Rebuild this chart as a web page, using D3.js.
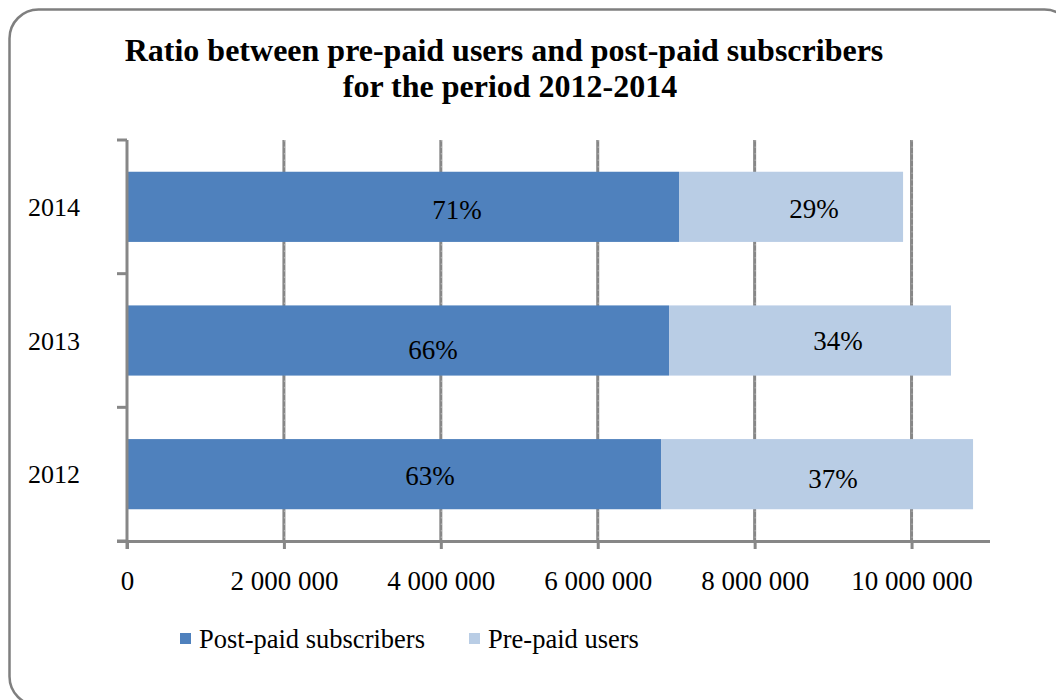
<!DOCTYPE html>
<html>
<head>
<meta charset="utf-8">
<script src="https://cdn.jsdelivr.net/npm/d3@7"></script>
<style>
  html, body { margin: 0; padding: 0; background: #ffffff; }
  svg { display: block; }
  text { font-family: "Liberation Serif", "Times New Roman", serif; fill: #000; }
</style>
</head>
<body>
<svg id="chart" width="1056" height="700"></svg>
<script>
// Subscribers by year (bottom-to-top order on the chart: 2012, 2013, 2014)
const years = ["2012", "2013", "2014"];
const postPaid = [6807000, 6909000, 7036000];
const prePaid = [3977000, 3594000, 2856000];
const seriesNames = ["Post-paid subscribers", "Pre-paid users"];
const xTicks = [0, 2000000, 4000000, 6000000, 8000000, 10000000];

// Small nudges for the percentage labels [dx, dy] per year, per series
const postLabelNudge = [[36, 2], [35, 9], [54, 3]];
const preLabelNudge = [[16, 5], [28, 0], [23, 2]];

const colors = { post: "#4F81BD", pre: "#B9CDE5", grid: "#878787", gridDot: "#b4b4b4", frame: "#7f7f7f" };

const svg = d3.select("#chart");

// Rounded outer frame
svg.append("rect")
  .attr("x", 9.5).attr("y", 9.5)
  .attr("width", 1064).attr("height", 696)
  .attr("rx", 29).attr("ry", 29)
  .attr("fill", "#fff")
  .attr("stroke", colors.frame)
  .attr("stroke-width", 2.5);

// Title
const title = svg.append("text")
  .attr("text-anchor", "middle")
  .attr("font-weight", "bold")
  .attr("font-size", 32);
title.append("tspan").attr("x", 504).attr("y", 61).text("Ratio between pre-paid users and post-paid subscribers");
title.append("tspan").attr("x", 510).attr("y", 97).text("for the period 2012-2014");

// Scales
const plot = { left: 127, right: 990, top: 140, bottom: 541 };
const x = d3.scaleLinear().domain([0, 11000000]).range([plot.left, plot.right]);
const y = d3.scaleBand().domain(years).range([plot.bottom, plot.top])
  .paddingInner(0.475).paddingOuter(0.2375);

const fmt = v => d3.format(",")(v).replace(/,/g, " ");

// Vertical gridlines: solid grey with a faint dotted core
const grid = svg.append("g");
const gridTicks = xTicks.filter(d => d > 0);
grid.selectAll("line.g")
  .data(gridTicks).join("line").attr("class", "g")
  .attr("x1", d => x(d)).attr("x2", d => x(d))
  .attr("y1", plot.top).attr("y2", plot.bottom)
  .attr("stroke", colors.grid)
  .attr("stroke-width", 3);
grid.selectAll("line.d")
  .data(gridTicks).join("line").attr("class", "d")
  .attr("x1", d => x(d) + 0.5).attr("x2", d => x(d) + 0.5)
  .attr("y1", plot.top).attr("y2", plot.bottom)
  .attr("stroke", colors.gridDot)
  .attr("stroke-width", 1)
  .attr("stroke-dasharray", "1.5,5");

// Stacked bars
const rows = years.map((yr, i) => ({ yr, i, post: postPaid[i], pre: prePaid[i], total: postPaid[i] + prePaid[i] }));

const barG = svg.append("g");
barG.selectAll("rect.post")
  .data(rows).join("rect").attr("class", "post")
  .attr("x", x(0))
  .attr("y", d => y(d.yr))
  .attr("width", d => x(d.post) - x(0))
  .attr("height", y.bandwidth())
  .attr("fill", colors.post);

barG.selectAll("rect.pre")
  .data(rows).join("rect").attr("class", "pre")
  .attr("x", d => x(d.post))
  .attr("y", d => y(d.yr))
  .attr("width", d => x(d.total) - x(d.post))
  .attr("height", y.bandwidth())
  .attr("fill", colors.pre);

// Percentage labels
const pct = v => Math.round(v * 100) + "%";
barG.selectAll("text.postLbl")
  .data(rows).join("text").attr("class", "postLbl")
  .attr("x", d => (x(0) + x(d.post)) / 2 + postLabelNudge[d.i][0])
  .attr("y", d => y(d.yr) + y.bandwidth() / 2 + postLabelNudge[d.i][1] + 9)
  .attr("text-anchor", "middle")
  .attr("font-size", 27)
  .text(d => pct(d.post / d.total));

barG.selectAll("text.preLbl")
  .data(rows).join("text").attr("class", "preLbl")
  .attr("x", d => (x(d.post) + x(d.total)) / 2 + preLabelNudge[d.i][0])
  .attr("y", d => y(d.yr) + y.bandwidth() / 2 + preLabelNudge[d.i][1] + 9)
  .attr("text-anchor", "middle")
  .attr("font-size", 27)
  .text(d => pct(d.pre / d.total));

// X axis
const xAxis = svg.append("g")
  .attr("transform", `translate(0,${plot.bottom})`)
  .call(d3.axisBottom(x).tickValues(xTicks).tickFormat(fmt).tickSize(8).tickSizeOuter(0).tickPadding(22));
xAxis.select(".domain").attr("stroke", colors.grid).attr("stroke-width", 3)
  .attr("d", `M${plot.left - 10},0.5H${plot.right}`);
xAxis.selectAll(".tick line").attr("stroke", colors.grid).attr("stroke-width", 3);
xAxis.selectAll(".tick text")
  .attr("font-family", "Liberation Serif, Times New Roman, serif")
  .attr("font-size", 27).attr("fill", "#000");

// Y axis with ticks on category boundaries
const yAxisG = svg.append("g");
yAxisG.append("line")
  .attr("x1", plot.left).attr("x2", plot.left)
  .attr("y1", plot.top).attr("y2", plot.bottom + 8)
  .attr("stroke", colors.grid).attr("stroke-width", 3);
const boundaries = years.map(yr => y(yr) - y.step() * y.paddingInner() / 2).concat([plot.bottom]);
yAxisG.selectAll("line.tk")
  .data(boundaries.map(b => Math.max(b, plot.top)))
  .join("line").attr("class", "tk")
  .attr("x1", plot.left - 10).attr("x2", plot.left)
  .attr("y1", d => d).attr("y2", d => d)
  .attr("stroke", colors.grid).attr("stroke-width", 3);
yAxisG.selectAll("text")
  .data(years).join("text")
  .attr("x", 80)
  .attr("y", d => y(d) + y.bandwidth() / 2 + 9)
  .attr("text-anchor", "end")
  .attr("font-size", 26)
  .text(d => d);

// Legend
const legend = svg.append("g");
const legendItems = [
  { name: seriesNames[0], color: colors.post, x: 180 },
  { name: seriesNames[1], color: colors.pre, x: 469 }
];
const li = legend.selectAll("g").data(legendItems).join("g")
  .attr("transform", d => `translate(${d.x},633)`);
li.append("rect").attr("width", 11).attr("height", 11).attr("fill", d => d.color);
li.append("text").attr("x", 19).attr("y", 15).attr("font-size", 26.5).text(d => d.name);
</script>
</body>
</html>
